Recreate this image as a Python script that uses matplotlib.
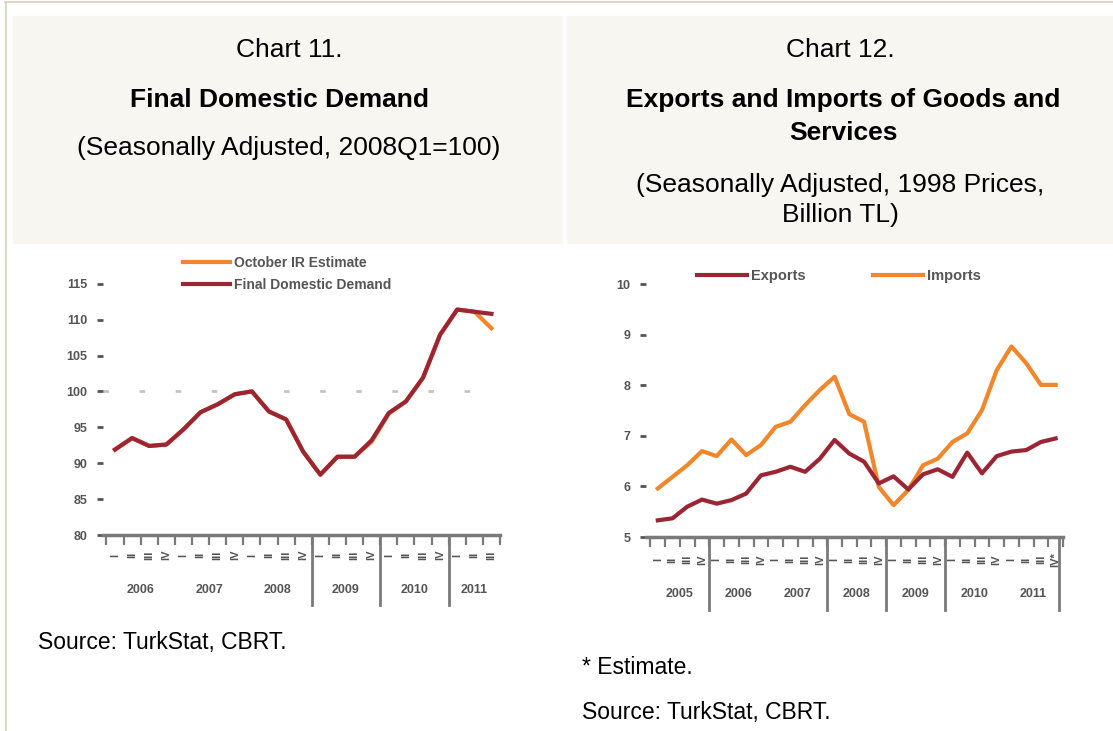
import matplotlib
matplotlib.use("Agg")
import matplotlib.pyplot as plt
from matplotlib.patches import Rectangle
from matplotlib.lines import Line2D
from matplotlib.transforms import blended_transform_factory

plt.rcParams["font.family"] = ["Liberation Sans", "DejaVu Sans"]

W, H = 1113, 731

# chart 11 data: 2006Q1 .. 2011Q3
fdd_years = ["2006", "2007", "2008", "2009", "2010", "2011"]
fdd_quarters = ["I", "II", "III", "IV"] * 5 + ["I", "II", "III"]
fdd_actual = [91.9, 93.5, 92.4, 92.6, 94.7, 97.1, 98.2, 99.6, 100.0, 97.2, 96.1, 91.6,
              88.4, 90.9, 90.9, 93.2, 97.0, 98.6, 101.9, 107.9, 111.4, 111.1, 110.8]
fdd_estimate = [91.9, 93.5, 92.4, 92.6, 94.7, 97.1, 98.2, 99.6, 100.0, 97.2, 96.1, 91.6,
                88.4, 90.9, 90.9, 93.0, 96.9, 98.6, 101.9, 107.9, 111.4, 111.1, 108.8]
fdd_yticks = [80, 85, 90, 95, 100, 105, 110, 115]

# chart 12 data: 2005Q1 .. 2011Q4 (last quarter estimated)
trade_years = ["2005", "2006", "2007", "2008", "2009", "2010", "2011"]
trade_quarters = ["I", "II", "III", "IV"] * 6 + ["I", "II", "III", "IV*"]
exports = [5.33, 5.37, 5.60, 5.74, 5.66, 5.73, 5.86, 6.22, 6.29, 6.39, 6.29, 6.55, 6.92, 6.65,
           6.49, 6.06, 6.20, 5.94, 6.24, 6.34, 6.19, 6.67, 6.26, 6.60, 6.69, 6.72, 6.88, 6.95]
imports = [5.96, 6.19, 6.42, 6.70, 6.60, 6.93, 6.62, 6.82, 7.18, 7.28, 7.61, 7.91, 8.17, 7.43,
           7.28, 5.99, 5.63, 5.93, 6.42, 6.55, 6.88, 7.05, 7.51, 8.30, 8.77, 8.44, 8.01, 8.01]
trade_yticks = [5, 6, 7, 8, 9, 10]

RED = "#9b2533"
ORANGE = "#f2862a"
GREY = "#7a7a7a"
TXT = "#555555"


def px_axes(fig, x0, y0, x1, y1):
    return fig.add_axes([x0 / W, 1 - y1 / H, (x1 - x0) / W, (y1 - y0) / H])


def time_axis(ax, quarters, years, separators, q_y, yr_y, sep_y):
    n = len(quarters)
    ax.set_xticks(range(n))
    ax.set_xticklabels([])
    ax.set_xticks([i + 0.5 for i in range(-1, n)], minor=True)
    ax.tick_params(axis="x", which="major", length=0)
    ax.tick_params(axis="x", which="minor", length=7, width=1.6, color=GREY)
    tr = blended_transform_factory(ax.transData, ax.transAxes)
    for i, q in enumerate(quarters):
        ax.text(i, q_y, q, transform=tr, rotation=90, ha="center", va="center",
                fontsize=8, fontweight="bold", color=TXT)
    for k, yr in enumerate(years):
        a = k * 4
        b = min(k * 4 + 3, n - 1)
        ax.text((a + b) / 2, yr_y, yr, transform=tr, ha="center", va="center",
                fontsize=9, fontweight="bold", color=TXT)
    for s in separators:
        ax.plot([s, s], [0, sep_y], transform=tr, color=GREY, lw=2, clip_on=False)


def style_axes(ax, yticks):
    for side in ("top", "right", "left"):
        ax.spines[side].set_visible(False)
    ax.spines["bottom"].set_color(GREY)
    ax.spines["bottom"].set_linewidth(2.5)
    ax.set_yticks(yticks)
    ax.set_yticklabels([str(v) for v in yticks], fontweight="bold")
    ax.tick_params(axis="y", length=4, width=2, color="#555555", pad=7,
                   labelsize=9, labelcolor=TXT)
    ax.set_ylim(yticks[0], yticks[-1])


fig = plt.figure(figsize=(W / 100, H / 100), dpi=100)

# page frame and header boxes
fig.add_artist(Line2D([5 / W, 1], [1 - 2 / H, 1 - 2 / H], color="#d8d0bd", lw=1.2))
fig.add_artist(Line2D([6 / W, 6 / W], [0, 1 - 2 / H], color="#d8d0bd", lw=1.2))
fig.patches.append(Rectangle((13 / W, 1 - 243 / H), (562 - 13) / W, (243 - 16) / H,
                             transform=fig.transFigure, color="#f7f6f1", zorder=0))
fig.patches.append(Rectangle((567 / W, 1 - 243 / H), (W - 567) / W, (243 - 16) / H,
                             transform=fig.transFigure, color="#f7f6f1", zorder=0))

hdr = 19
fig.text(289 / W, 1 - 50 / H, "Chart 11.", ha="center", va="center", fontsize=hdr)
fig.text(280 / W, 1 - 100 / H, "Final Domestic Demand", ha="center", va="center",
         fontsize=hdr, fontweight="bold")
fig.text(289 / W, 1 - 148 / H, "(Seasonally Adjusted, 2008Q1=100)", ha="center",
         va="center", fontsize=hdr)
fig.text(840 / W, 1 - 50 / H, "Chart 12.", ha="center", va="center", fontsize=hdr)
fig.text(843 / W, 1 - 100 / H, "Exports and Imports of Goods and", ha="center",
         va="center", fontsize=hdr, fontweight="bold")
fig.text(843 / W, 1 - 133 / H, "Services", ha="center", va="center", fontsize=hdr,
         fontweight="bold")
fig.text(840 / W, 1 - 185 / H, "(Seasonally Adjusted, 1998 Prices,", ha="center",
         va="center", fontsize=hdr)
fig.text(840 / W, 1 - 215 / H, "Billion TL)", ha="center", va="center", fontsize=hdr)

foot = 16.5
fig.text(38 / W, 1 - 642 / H, "Source: TurkStat, CBRT.", va="center", fontsize=foot)
fig.text(582 / W, 1 - 668 / H, "* Estimate.", va="center", fontsize=foot)
fig.text(582 / W, 1 - 712 / H, "Source: TurkStat, CBRT.", va="center", fontsize=foot)

# chart 11
ax1 = px_axes(fig, 103, 283.7, 500, 535)
x1 = list(range(len(fdd_actual)))
ax1.axhline(100, color="#c4c4c4", lw=2, linestyle=(0, (2, 11)), zorder=1)
ax1.plot(x1, fdd_estimate, color=ORANGE, lw=3, label="October IR Estimate", zorder=2)
ax1.plot(x1, fdd_actual, color=RED, lw=3, label="Final Domestic Demand", zorder=3)
ax1.set_xlim(-0.7, len(x1) - 0.75)
style_axes(ax1, fdd_yticks)
time_axis(ax1, fdd_quarters, fdd_years, [11.5, 15.5, 19.5], -0.08, -0.22, -0.28)
leg1 = ax1.legend(loc="upper left", bbox_to_anchor=(176 / W, 1 - 249 / H),
                  bbox_transform=fig.transFigure, frameon=False,
                  prop={"size": 10, "weight": "bold"}, handlelength=3.4,
                  handletextpad=0.3, labelspacing=0.6, borderpad=0, labelcolor=TXT)

# chart 12
ax2 = px_axes(fig, 646, 284.3, 1063, 537)
x2 = list(range(len(exports)))
ax2.plot(x2, imports, color=ORANGE, lw=3, label="Imports", zorder=2)
ax2.plot(x2, exports, color=RED, lw=3, label="Exports", zorder=3)
ax2.set_xlim(-0.8, len(x2) - 0.8)
style_axes(ax2, trade_yticks)
time_axis(ax2, trade_quarters, trade_years, [3.5, 11.5, 15.5, 19.5, 27.2],
          -0.09, -0.225, -0.29)
h, l = ax2.get_legend_handles_labels()
ax2.legend(h[::-1], l[::-1], loc="upper left", bbox_to_anchor=(690 / W, 1 - 262 / H),
           bbox_transform=fig.transFigure, ncol=2, frameon=False,
           prop={"size": 10.5, "weight": "bold"}, handlelength=3.4, handletextpad=0.3,
           columnspacing=4.6, borderpad=0, labelcolor=TXT)

fig.savefig("out.png", dpi=100)
plt.close(fig)
